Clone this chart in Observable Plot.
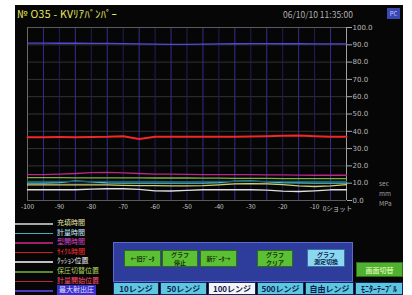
<!DOCTYPE html>
<html><head><meta charset="utf-8">
<script src="https://cdn.jsdelivr.net/npm/d3@7"></script>
<script src="https://cdn.jsdelivr.net/npm/@observablehq/plot@0.6"></script>
<style>
html,body{margin:0;padding:0;background:#fff;width:412px;height:295px;overflow:hidden;font-family:"Noto Sans CJK JP","DejaVu Sans",sans-serif;}
#screen{position:absolute;left:15px;top:5px;width:388px;height:290px;background:#060606;}
#chart{position:absolute;left:0;top:0;}
.abs{position:absolute;white-space:nowrap;}
.btn{position:absolute;background:#5cc034;color:#17320a;font-size:6px;text-align:center;display:flex;flex-direction:column;align-items:center;justify-content:center;font-weight:bold;border:1px solid #2f6a1c;box-sizing:border-box;}
.btn span{display:block;line-height:7.5px;height:7.5px;overflow:visible;}
.tab{position:absolute;top:282px;height:13px;background:#5cc8e0;color:#0d1a50;font-size:8px;font-weight:bold;display:flex;align-items:center;justify-content:center;border:1px solid #1a2260;box-sizing:border-box;}
</style></head>
<body>
<div id="screen"></div>
<div id="chart"></div>
<div id="ui"></div>
<script>
// ---- data ----
const shots = [-100,-95,-90,-85,-80,-75,-70,-65,-60,-55,-50,-45,-40,-35,-30,-25,-20,-15,-10,-5,0];
const seriesNames = ["充填時間","計量時間","型開時間","ｻｲｸﾙ時間","ｸｯｼｮﾝ位置","保圧切替位置","計量開始位置","最大射出圧"];
const fillTime   = [9.0,9.0,9.0,9.0,9.0,9.0,8.8,8.6,8.6,8.5,8.5,8.6,9.0,9.6,9.8,9.6,9.2,8.4,8.1,8.4,9.2];
const meterTime  = [10.0,10.1,10.3,11.4,10.8,10.2,10.0,10.0,10.0,10.1,10.1,10.1,10.3,11.2,11.4,10.8,10.3,10.2,10.1,10.1,10.0];
const moldTime   = [15.0,15.0,15.2,15.6,16.1,16.2,16.0,15.6,15.3,15.2,15.1,15.0,15.0,15.0,14.9,14.8,14.8,14.7,14.6,14.6,14.6];
const cycleTime  = [36.6,36.6,36.7,36.6,36.7,36.8,37.2,35.5,36.8,36.9,36.9,36.8,36.8,36.9,37.0,37.1,37.4,37.6,37.2,36.9,36.9];
const cushionPos = [6.2,6.2,6.2,6.2,6.6,6.8,6.8,6.4,5.6,5.5,5.8,6.2,6.2,6.2,6.2,6.0,5.4,5.2,5.6,6.2,6.2];
const switchPos  = [13.2,13.2,13.2,13.1,13.1,13.1,13.1,13.1,13.0,13.0,13.0,12.9,12.9,12.8,12.8,12.8,12.7,12.7,12.7,12.7,12.7];
const meterStart = [11.0,11.0,11.0,11.1,11.1,11.0,11.0,11.0,11.0,10.9,10.9,11.0,11.0,11.0,11.1,11.1,11.0,11.0,11.0,11.0,11.0];
const maxPress   = [91.0,91.0,90.9,90.9,90.8,90.8,90.7,90.5,90.4,90.3,90.3,90.4,90.5,90.6,90.7,90.7,90.6,90.6,90.5,90.5,90.5];
const seriesValues = [fillTime,meterTime,moldTime,cycleTime,cushionPos,switchPos,meterStart,maxPress];
const lineColors = ["#d0d070","#48c0d0","#b82888","#f02828","#e0e0e0","#80b040","#1c6070","#5448d8"];
const legendLineColors = ["#a8a8a8","#40b0c0","#a02068","#d02020","#c0c0c0","#5a8a28","#b82840","#5038c0"];
const legendTextColors = ["#e8e8a8","#c8f0ff","#d848c8","#ff3030","#f0f0f0","#b0d060","#ff5070","#e0e0ff"];
const yTicks = [0,10,20,30,40,50,60,70,80,90,100];
const xTicks = [-100,-90,-80,-70,-60,-50,-40,-30,-20,-10];
const xTickLabels = ["-100","-90","-80","-70","-60","-50","-40","-30","-20","-10"];
const xEndTick = 0, xEndLabel = "0ショット";
const gridX = [-95,-90,-85,-80,-75,-70,-65,-60,-55,-50,-45,-40,-35,-30,-25,-20,-15,-10,-5];
const gridY = [10,20,30,40,50,60,70,80,90];
const unitLabels = ["sec","mm","MPa"];
const titleText = "№ O35 - KVﾘｱﾊﾞﾝﾊﾟｰ";
const dateText = "06/10/10 11:35:00";
const buttons = [
  {t:["←旧ﾃﾞｰﾀ"], x:124,w:37},{t:["グラフ","停止"], x:162,w:36},{t:["新ﾃﾞｰﾀ→"], x:200,w:37},
  {t:["グラフ","クリア"], x:257,w:36}];
const measureBtn = ["グラフ","測定切換"];
const tabs = ["10レンジ","50レンジ","100レンジ","500レンジ","自由レンジ","ﾓﾆﾀｰﾃｰﾌﾞﾙ"];
const selectedTab = 2;

// ---- table ----
const rows = [];
seriesValues.forEach((vals,si)=>vals.forEach((v,i)=>rows.push({shot:shots[i],value:v,s:si})));

const plot = Plot.plot({
  width:412, height:215,
  marginLeft:27, marginRight:66, marginTop:27, marginBottom:15,
  style:{background:"transparent",color:"#c8c8c8",fontSize:"7px",fontFamily:"DejaVu Sans, sans-serif"},
  x:{domain:[-100,0], label:null},
  y:{domain:[0,100], label:null},
  marks:[
    Plot.ruleY(gridY,{stroke:"#333333",strokeWidth:1}),
    Plot.ruleX(gridX,{stroke:(d,i)=> i%2===0 ? "#332e90" : "#201e58",strokeWidth:1}),
    Plot.ruleX([-100],{stroke:"#6a6a6a"}),
    Plot.ruleY([100],{stroke:"#5a5a5a"}),
    Plot.ruleY([0],{stroke:"#5a5a5a"}),
    Plot.ruleX([0],{stroke:"#a0a0a0"}),
    ...seriesValues.map((vals,si)=>Plot.line(rows.filter(r=>r.s===si),{x:"shot",y:"value",stroke:lineColors[si],strokeWidth: si===3?2:1.3})),
    Plot.axisY({anchor:"right",ticks:yTicks,tickFormat:d=>d.toFixed(1),tickSize:5,tickPadding:1,stroke:"#aaa",fill:"#b8b8b8",fontSize:7,label:null}),
    Plot.axisX({anchor:"bottom",ticks:xTicks,tickFormat:(d)=>xTickLabels[xTicks.indexOf(d)],tickSize:0,tickPadding:4,fill:"#c8c8c8",fontSize:6.5,fontFamily:"Noto Sans CJK JP",label:null}),
    Plot.text([xEndTick],{x:d=>d,frameAnchor:"bottom",dy:10,dx:-9,text:()=>xEndLabel,fill:"#c8c8c8",fontSize:6.5,fontFamily:"Noto Sans CJK JP"})
  ]
});
document.getElementById("chart").appendChild(plot);

// ---- HMI overlay (text, legend, buttons) ----
const ui = document.getElementById("ui");
function add(html){ui.insertAdjacentHTML("beforeend",html);}
const lines = arr => arr.map(s=>`<span>${s}</span>`).join("");
add(`<div class="abs" style="left:17px;top:6px;font-size:10.5px;color:#e8e860;letter-spacing:0.3px;">${titleText}</div>`);
add(`<div class="abs" style="left:283px;top:8px;font-size:8.5px;color:#b0b0b0;">${dateText}</div>`);
add(`<div class="abs" style="left:387px;top:8px;width:13px;height:11px;background:#3848b0;color:#c0c8ff;font-size:6px;text-align:center;line-height:11px;">PC</div>`);
unitLabels.forEach((u,i)=>add(`<div class="abs" style="left:379px;top:${178+i*10}px;font-size:6.5px;color:#a0a0a0;">${u}</div>`));
seriesNames.forEach((n,i)=>{
  const y = 223 + i*9.6;
  add(`<div class="abs" style="left:15px;top:${y}px;width:38px;height:1.5px;background:${legendLineColors[i]};"></div>`);
  const bg = i===7 ? "background:#3a2ed0;padding:0 2px;" : "";
  add(`<div class="abs" style="left:57px;top:${y-5}px;font-size:7px;line-height:9.5px;color:${legendTextColors[i]};${bg}">${n}</div>`);
});
add(`<div class="abs" style="left:113px;top:242px;width:240px;height:40px;background:#2e3c9c;border:1px solid #5a6ad0;box-sizing:border-box;"></div>`);
buttons.forEach(b=>add(`<div class="btn" style="left:${b.x}px;top:250px;width:${b.w}px;height:17px;">${lines(b.t)}</div>`));
add(`<div class="btn" style="left:307px;top:249px;width:38px;height:18px;background:#8ad8f0;color:#102050;border-color:#3a70a0;">${lines(measureBtn)}</div>`);
add(`<div class="btn" style="left:356px;top:262px;width:47px;height:15px;background:#50b030;color:#c8f0a0;font-size:7px;">画面切替</div>`);
const tabX=[113,160,208,257,305,355], tabW=[46,47,48,47,49,48];
tabs.forEach((t,i)=>add(`<div class="tab" style="left:${tabX[i]}px;width:${tabW[i]}px;${i===selectedTab?'background:#f4f4f4;':''}">${t}</div>`));
</script>
</body></html>
